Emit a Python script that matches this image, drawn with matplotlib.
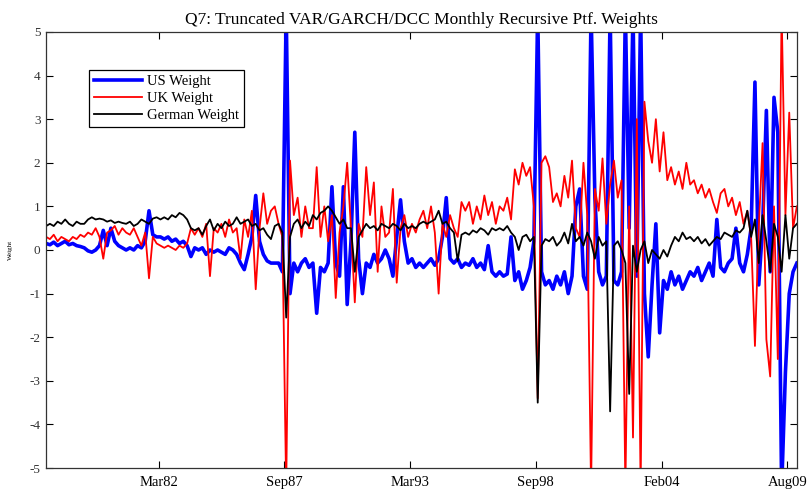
import numpy as np
import matplotlib
matplotlib.use("Agg")
import matplotlib.pyplot as plt

# recursive portfolio weights, every second month
us_weight = [
    0.15, 0.12, 0.18, 0.10, 0.15, 0.20, 0.12, 0.15, 0.10, 0.08,
    0.05, -0.02, -0.05, 0.00, 0.10, 0.45, 0.10, 0.50, 0.20, 0.10,
    0.05, 0.00, 0.05, 0.00, 0.10, 0.05, 0.20, 0.90, 0.35, 0.30,
    0.30, 0.25, 0.30, 0.20, 0.25, 0.15, 0.20, 0.10, -0.15, 0.05,
    0.00, 0.05, -0.10, 0.00, -0.05, 0.00, -0.05, -0.10, 0.05, 0.00,
    -0.10, -0.30, -0.45, -0.10, 0.30, 1.25, 0.20, -0.10, -0.25, -0.30,
    -0.30, -0.30, -0.50, 5.50, -1.00, -0.30, -0.50, -0.30, -0.20, -0.40,
    -0.30, -1.45, -0.40, -0.50, -0.30, 1.45, -0.30, -0.60, 1.45, -1.25,
    0.20, 2.70, -0.20, -1.00, -0.30, -0.40, -0.10, -0.30, -0.20, 0.00,
    -0.20, -0.60, 0.30, 1.15, 0.20, -0.30, -0.20, -0.40, -0.30, -0.40,
    -0.30, -0.20, -0.35, -0.20, 0.30, 1.20, -0.20, -0.30, -0.20, -0.40,
    -0.30, -0.35, -0.20, -0.40, -0.30, -0.45, 0.10, -0.50, -0.60, -0.50,
    -0.60, -0.55, 0.30, -0.70, -0.50, -0.90, -0.70, -0.40, 0.20, 5.50,
    -0.50, -0.80, -0.70, -0.90, -0.60, -0.80, -0.50, -1.00, -0.60, 1.00,
    1.40, -0.60, -0.90, 5.50, 1.20, -0.50, -0.80, -0.60, 5.50, -0.70,
    -0.80, -0.50, 5.50, 0.50, 5.50, -0.60, 5.50, -1.00, -2.45, -0.80,
    0.60, -1.90, -0.70, -0.90, -0.50, -0.80, -0.60, -0.90, -0.70, -0.50,
    -0.60, -0.40, -0.70, -0.50, -0.30, -0.60, 0.70, -0.40, -0.50, -0.30,
    -0.20, 0.50, -0.30, -0.50, -0.10, 0.50, 3.85, -0.80, 0.50, 3.20,
    -0.50, 3.50, 2.70, -5.50, -2.80, -1.00, -0.50, -0.30]

uk_weight = [
    0.30, 0.25, 0.35, 0.20, 0.30, 0.25, 0.20, 0.30, 0.25, 0.35,
    0.30, 0.40, 0.35, 0.50, 0.30, -0.20, 0.40, 0.45, 0.55, 0.35,
    0.50, 0.40, 0.35, 0.50, 0.30, 0.10, 0.40, -0.65, 0.30, 0.15,
    0.10, 0.05, 0.10, 0.05, 0.00, 0.10, 0.05, 0.15, 0.50, 0.35,
    0.50, 0.30, 0.60, -0.60, 0.50, 0.40, 0.60, 0.30, 0.70, 0.40,
    0.50, -0.20, 0.70, 0.30, 0.90, -0.90, 0.50, 1.30, 0.60, 0.90,
    1.00, 0.60, 0.30, -5.50, 2.05, 0.80, 1.20, 0.30, 1.00, 0.50,
    0.50, 1.90, 0.30, 1.00, 0.20, 0.80, -1.10, 0.40, 1.00, 2.00,
    0.50, -1.20, 0.60, 0.30, 1.90, 0.80, 1.55, -0.50, 1.00, 0.30,
    0.40, 1.40, -0.75, 0.50, 0.80, 0.30, 0.60, 0.40, 0.70, 0.90,
    0.50, 1.00, 0.40, -1.00, 0.60, 0.30, 0.80, 0.50, 0.30, 1.10,
    0.90, 1.10, 0.60, 1.00, 0.70, 1.25, 0.80, 1.10, 0.60, 1.00,
    0.90, 1.20, 0.70, 1.85, 1.50, 2.00, 1.70, 1.90, 1.00, -3.40,
    2.00, 2.15, 1.90, 1.10, 1.30, 1.00, 1.70, 1.20, 2.05, 0.50,
    0.30, 2.00, 0.80, -5.50, 1.40, 0.90, 2.10, 0.60, 1.50, 2.05,
    1.20, 1.60, -5.50, 1.00, -4.30, 3.00, -5.50, 3.40, 2.50, 2.00,
    3.00, 1.80, 2.70, 1.60, 1.90, 1.50, 1.80, 1.40, 2.00, 1.50,
    1.60, 1.30, 1.50, 1.20, 1.40, 1.10, 0.85, 1.30, 1.40, 1.00,
    1.20, 0.80, 1.10, 0.60, 0.90, 0.30, -2.20, 0.50, 2.45, -2.05,
    -2.90, 1.00, -2.50, 5.50, 0.80, 3.15, 0.50, 1.00]

german_weight = [
    0.55, 0.60, 0.55, 0.65, 0.60, 0.70, 0.60, 0.55, 0.65, 0.60,
    0.60, 0.70, 0.75, 0.70, 0.72, 0.70, 0.65, 0.68, 0.62, 0.65,
    0.62, 0.60, 0.65, 0.55, 0.60, 0.70, 0.65, 0.60, 0.72, 0.75,
    0.70, 0.75, 0.70, 0.80, 0.75, 0.85, 0.80, 0.70, 0.50, 0.45,
    0.50, 0.35, 0.55, 0.70, 0.45, 0.60, 0.50, 0.65, 0.55, 0.60,
    0.75, 0.60, 0.65, 0.70, 0.55, 0.60, 0.45, 0.50, 0.35, 0.25,
    0.55, 0.60, 0.40, -1.55, 0.30, 0.60, 0.70, 0.50, 0.65, 0.55,
    0.80, 0.70, 0.85, 0.90, 1.00, 0.90, 0.75, 0.60, 0.70, 0.50,
    0.50, -0.50, 0.30, 0.45, 0.60, 0.50, 0.55, 0.45, 0.60, 0.55,
    0.50, 0.60, 0.55, 0.45, 0.60, 0.50, 0.55, 0.50, 0.60, 0.65,
    0.60, 0.65, 0.70, 0.90, 0.60, 0.65, 0.50, 0.40, -0.25, 0.35,
    0.40, 0.35, 0.45, 0.40, 0.50, 0.45, 0.35, 0.50, 0.45, 0.50,
    0.45, 0.55, 0.40, 0.30, 0.00, 0.30, 0.35, 0.20, 0.30, -3.50,
    0.10, 0.25, 0.20, 0.30, 0.10, 0.20, 0.40, 0.15, 0.60, 0.20,
    0.30, 0.10, 0.40, 0.20, -0.20, 0.30, 0.10, 0.20, -3.70, 0.10,
    0.20, 0.00, -0.30, -3.30, 0.10, -0.50, 0.00, 0.20, -0.30, 0.00,
    -0.10, -0.20, 0.00, -0.15, 0.10, 0.30, 0.20, 0.40, 0.25, 0.30,
    0.20, 0.30, 0.15, 0.25, 0.10, 0.20, 0.30, 0.25, 0.40, 0.35,
    0.30, 0.45, 0.40, 0.50, 0.90, 0.30, 0.70, -0.30, 0.80, 0.20,
    -0.50, 0.60, 0.30, -0.50, 0.80, -0.20, 0.50, 0.60]

# observation index (months), one value every second month
obs = np.arange(1, 2 * len(us_weight), 2)

tick_obs = [60, 126, 192, 258, 324, 390]
tick_labels = ['Mar82', 'Sep87', 'Mar93', 'Sep98', 'Feb04', 'Aug09']

plt.rcParams['font.family'] = ['Liberation Serif', 'DejaVu Serif']
plt.rcParams['axes.unicode_minus'] = False

fig = plt.figure(figsize=(8.09, 4.99), dpi=100)
ax = fig.add_axes([0.057, 0.062, 0.928, 0.874])

ax.plot(obs, us_weight, color='blue', lw=2.6, label='US Weight')
ax.plot(obs, uk_weight, color='red', lw=1.3, label='UK Weight')
ax.plot(obs, german_weight, color='black', lw=1.3, label='German Weight')

ax.set_xlim(1, 395)
ax.set_ylim(-5, 5)
ax.set_yticks(range(-5, 6))
ax.set_xticks(tick_obs)
ax.set_xticklabels(tick_labels, fontsize=10.5)
ax.tick_params(axis='x', pad=6)
ax.tick_params(axis='y', labelsize=9.5, labelcolor='#333333', pad=4)
ax.tick_params(direction='in', top=True, right=True, length=5, width=0.8)
for s in ax.spines.values():
    s.set_linewidth(0.9)
    s.set_color('#333333')

ax.set_ylabel('Weight', fontsize=5, labelpad=12)
ax.set_title('Q7: Truncated VAR/GARCH/DCC Monthly Recursive Ptf. Weights',
             fontsize=12.5, pad=6)

leg = ax.legend(loc='upper left', bbox_to_anchor=(0.057, 0.913), fontsize=10.5,
                handlelength=3.3, fancybox=False, framealpha=1,
                borderpad=0.35, labelspacing=0.25, handletextpad=0.3,
                borderaxespad=0)
leg.get_frame().set_edgecolor('black')
leg.get_frame().set_linewidth(0.9)

fig.savefig('out.png', dpi=100)
